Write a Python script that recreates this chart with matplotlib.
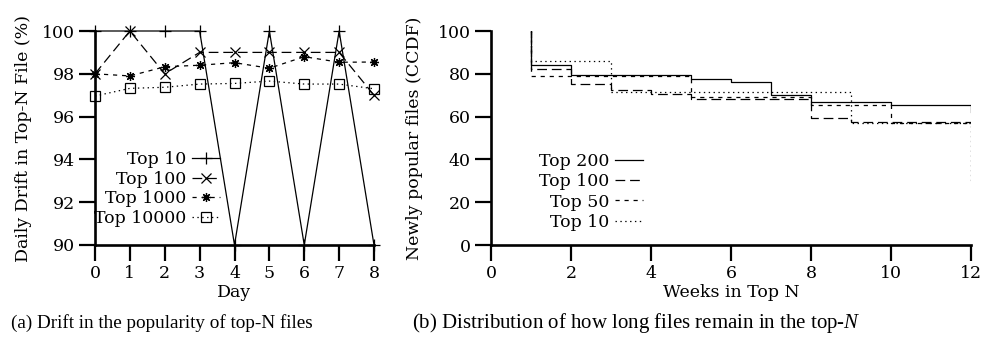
import numpy as np
import matplotlib
matplotlib.use("Agg")
import matplotlib.pyplot as plt

plt.rcParams['font.family'] = ['DejaVu Serif']
plt.rcParams['mathtext.fontset'] = 'custom'
plt.rcParams['mathtext.it'] = 'Liberation Serif:italic'
plt.rcParams['mathtext.rm'] = 'Liberation Serif'
plt.rcParams['lines.scale_dashes'] = False

# (a) daily drift
days = [0, 1, 2, 3, 4, 5, 6, 7, 8]
top10 = [100, 100, 100, 100, 90, 100, 90, 100, 90]
top100 = [98, 100, 98, 99, 99, 99, 99, 99, 97]
top1000 = [98, 97.9, 98.33, 98.4, 98.52, 98.26, 98.8, 98.54, 98.55]
top10000 = [96.96, 97.32, 97.37, 97.52, 97.55, 97.66, 97.52, 97.52, 97.3]

# (b) CCDF of weeks spent in top N (first entry = 100% at week 1)
weeks = [1, 1, 2, 3, 4, 5, 6, 7, 8, 9, 10, 11, 12]
ccdf200 = [100, 84, 79.5, 79.5, 79.5, 77.6, 76.3, 70.2, 66.6, 66.6, 65.2, 65.2, 62]
ccdf100 = [100, 82.4, 75.2, 72.5, 70.7, 68.3, 68.3, 68.3, 59.3, 57.5, 57.5, 57.5, 57]
ccdf50 = [100, 78.8, 78.8, 78.8, 78.8, 69.2, 69.2, 69.2, 65.5, 65.5, 57, 57, 57]
ccdf10 = [100, 86, 86, 71.5, 71.5, 71.5, 71.4, 71.4, 71.4, 57.2, 57.2, 57.2, 30]

LONG = (0, (7, 3.5))
SHORT = (0, (3, 3.5))
DOT = (0, (1, 2.5))
FS = 12.5


def style_axes(ax):
    for s in ['top', 'right']:
        ax.spines[s].set_visible(False)
    for s in ['left', 'bottom']:
        ax.spines[s].set_linewidth(1.9)
    ax.tick_params(direction='out', length=11.5, width=1.6, labelsize=FS, pad=3)


fig = plt.figure(figsize=(9.84, 3.49), dpi=100)

ax1 = fig.add_axes([95 / 984, 1 - 245 / 349, 279 / 984, 214 / 349])
style_axes(ax1)
ax1.plot(days, top10, color='black', lw=0.9, marker='+', ms=9, mew=0.9,
         label='Top 10', clip_on=False)
ax1.plot(days, top100, color='black', lw=0.9, ls=LONG, marker='x', ms=7, mew=0.9,
         label='Top 100', clip_on=False)
ax1.plot(days, top1000, color='black', lw=0.9, ls=SHORT, marker=(8, 2, 0), ms=6.5,
         mew=0.9, label='Top 1000', clip_on=False)
ax1.plot(days, top10000, color='black', lw=0.9, ls=DOT, marker='s', ms=6.5,
         mfc='none', mew=0.9, label='Top 10000', clip_on=False)
ax1.set_xlim(0, 8)
ax1.set_ylim(90, 100)
ax1.set_xticks(days)
ax1.set_yticks(np.arange(90, 101, 2))
ax1.set_xlabel('Day', fontsize=FS, labelpad=1)
ax1.set_ylabel('Daily Drift in Top-N File (%)', fontsize=FS, labelpad=7)
ax1.legend(loc='center right', bbox_to_anchor=(125 / 279, 56 / 214), frameon=False,
           markerfirst=False, fontsize=FS, handlelength=1.6, handletextpad=0.35,
           labelspacing=0.15, borderpad=0, borderaxespad=0, numpoints=1)

ax2 = fig.add_axes([491 / 984, 1 - 245 / 349, 480 / 984, 214 / 349])
style_axes(ax2)
ax2.step(weeks, ccdf200, where='post', color='black', lw=0.9, label='Top 200')
ax2.step(weeks, ccdf100, where='post', color='black', lw=0.9, ls=LONG, label='Top 100')
ax2.step(weeks, ccdf50, where='post', color='black', lw=0.9, ls=SHORT, label='Top 50')
ax2.step(weeks, ccdf10, where='post', color='black', lw=0.9, ls=DOT, label='Top 10')
ax2.set_xlim(0, 12)
ax2.set_ylim(0, 100)
ax2.set_xticks(np.arange(0, 13, 2))
ax2.set_yticks(np.arange(0, 101, 20))
ax2.set_xlabel('Weeks in Top N', fontsize=FS, labelpad=1)
ax2.set_ylabel('Newly popular files (CCDF)', fontsize=FS, labelpad=11)
ax2.legend(loc='center right', bbox_to_anchor=(152 / 480, 53 / 214), frameon=False,
           markerfirst=False, fontsize=FS, handlelength=1.6, handletextpad=0.35,
           labelspacing=0.18, borderpad=0, borderaxespad=0)

fig.text(162 / 984, 1 - 323 / 349, '(a) Drift in the popularity of top-N files',
         ha='center', va='center', fontsize=13.8, family='Liberation Serif')
fig.text(412 / 984, 1 - 323 / 349,
         '(b) Distribution of how long files remain in the top-$N$',
         ha='left', va='center', fontsize=15, family='Liberation Serif')

fig.savefig('out.png', dpi=100)
